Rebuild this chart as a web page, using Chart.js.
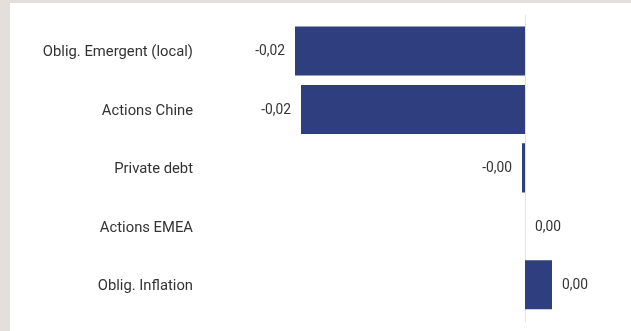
<!DOCTYPE html>
<html>
<head>
<meta charset="utf-8">
<script src="https://cdn.jsdelivr.net/npm/chart.js@4"></script>
<style>
  html, body { margin: 0; padding: 0; }
  body { width: 631px; height: 331px; background: #e4dfda; position: relative; overflow: hidden; }
  #panel { position: absolute; left: 10px; top: 3px; width: 621px; height: 328px; background: #ffffff; }
  #panel canvas { display: block; }
</style>
</head>
<body>
<div id="panel"><canvas id="chart" width="621" height="328"></canvas></div>
<script>
// Contribution by asset class
const categories = [
  'Oblig. Emergent (local)',
  'Actions Chine',
  'Private debt',
  'Actions EMEA',
  'Oblig. Inflation'
];
const contributions = [-0.0230, -0.0224, -0.0003, 0.0000, 0.0027];

const BAR_COLOR = '#2f3e7f';
const TEXT_COLOR = '#333333';
const FONT_FAMILY = 'Roboto, "Liberation Sans", Arial, sans-serif';

const fmt = v => {
  const s = Math.abs(v).toFixed(2).replace('.', ',');
  return v < 0 ? '-' + s : s;
};

// thin vertical line at zero, slightly taller than the plot area
const zeroLine = {
  id: 'zeroLine',
  beforeDatasetsDraw(chart) {
    const { ctx, chartArea, scales } = chart;
    const x = Math.round(scales.x.getPixelForValue(0)) + 0.5;
    ctx.save();
    ctx.strokeStyle = '#e3e3e3';
    ctx.lineWidth = 1;
    ctx.beginPath();
    ctx.moveTo(x, chartArea.top - 7);
    ctx.lineTo(x, chartArea.bottom + 8);
    ctx.stroke();
    ctx.restore();
  }
};

// value labels beside the end of each bar
const valueLabels = {
  id: 'valueLabels',
  afterDatasetsDraw(chart) {
    const { ctx } = chart;
    const meta = chart.getDatasetMeta(0);
    ctx.save();
    ctx.font = '13.8px ' + FONT_FAMILY;
    ctx.fillStyle = TEXT_COLOR;
    ctx.textBaseline = 'middle';
    meta.data.forEach((bar, i) => {
      const v = contributions[i];
      const text = fmt(v);
      if (v < 0) {
        ctx.textAlign = 'right';
        ctx.fillText(text, bar.x - 10, bar.y + 1);
      } else {
        ctx.textAlign = 'left';
        ctx.fillText(text, bar.x + 10, bar.y + 1);
      }
    });
    ctx.restore();
  }
};

new Chart(document.getElementById('chart'), {
  type: 'bar',
  data: {
    labels: categories,
    datasets: [{
      data: contributions,
      backgroundColor: BAR_COLOR,
      borderWidth: 0,
      barPercentage: 0.84,
      categoryPercentage: 1.0
    }]
  },
  options: {
    indexAxis: 'y',
    responsive: false,
    animation: false,
    layout: { padding: { top: 18.75, bottom: 17, left: 0, right: 0 } },
    plugins: { legend: { display: false }, tooltip: { enabled: false } },
    scales: {
      x: {
        display: false,
        min: -0.032,
        max: 0.0106
      },
      y: {
        grid: { display: false, drawTicks: false },
        border: { display: false },
        ticks: {
          color: TEXT_COLOR,
          padding: 12,
          labelOffset: 1.5,
          font: { family: FONT_FAMILY, size: 14.8 }
        },
        afterFit(scale) {
          scale.width = 195;
          // the plot area is set by the layout padding alone
          scale.paddingTop = 0;
          scale.paddingBottom = 0;
        }
      }
    }
  },
  plugins: [zeroLine, valueLabels]
});
</script>
</body>
</html>
